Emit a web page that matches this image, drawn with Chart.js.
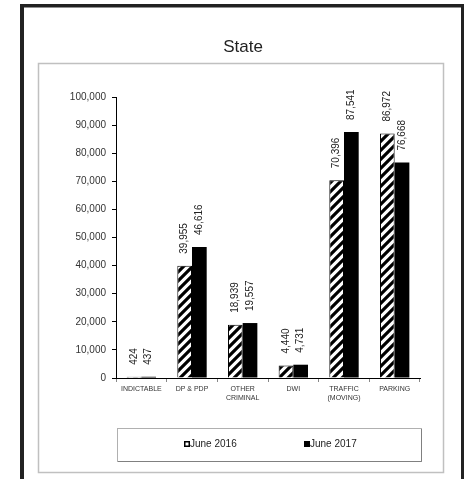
<!DOCTYPE html>
<html>
<head>
<meta charset="utf-8">
<script src="https://cdn.jsdelivr.net/npm/chart.js@4"></script>
<style>
html,body{margin:0;padding:0;background:#fff;}
#wrap{position:absolute;left:0;top:0;width:464px;height:479px;}
</style>
</head>
<body>
<div id="wrap"><canvas id="c" width="464" height="479"></canvas></div>
<script>
const categories = ['INDICTABLE', 'DP & PDP', ['OTHER', 'CRIMINAL'], 'DWI', ['TRAFFIC', '(MOVING)'], 'PARKING'];
const june2016 = [424, 39955, 18939, 4440, 70396, 86972];
const june2017 = [437, 46616, 19557, 4731, 87541, 76668];
const seriesNames = ['June 2016', 'June 2017'];
const chartTitle = 'State';
const yMax = 100000;
const yStep = 10000;

function makeHatch() {
  const s = 9;
  const c = document.createElement('canvas');
  c.width = s; c.height = s;
  const g = c.getContext('2d');
  g.fillStyle = '#fff';
  g.fillRect(0, 0, s, s);
  g.strokeStyle = '#000';
  g.lineWidth = 3.2;
  g.beginPath();
  g.moveTo(-2, s + 2); g.lineTo(s + 2, -2);
  g.moveTo(-3, 3); g.lineTo(3, -3);
  g.moveTo(s - 3, s + 3); g.lineTo(s + 3, s - 3);
  g.stroke();
  return g.createPattern(c, 'repeat');
}
const hatch = makeHatch();

const fmt = v => Number(v).toLocaleString('en-US');

const decor = {
  id: 'decor',
  beforeDraw(chart) {
    const ctx = chart.ctx;
    ctx.save();
    ctx.fillStyle = '#fff';
    ctx.fillRect(0, 0, chart.width, chart.height);
    ctx.fillStyle = '#222';
    ctx.fillRect(20, 4, 444, 3.5);
    ctx.fillRect(20, 4, 4, 480);
    ctx.fillRect(461, 4, 3, 480);
    ctx.strokeStyle = '#c0c0c0';
    ctx.lineWidth = 1.5;
    ctx.strokeRect(38.5, 63.5, 405, 409);
    ctx.fillStyle = '#222';
    ctx.font = '17px "Liberation Sans", Arial, sans-serif';
    ctx.textAlign = 'center';
    ctx.textBaseline = 'middle';
    ctx.fillText(chartTitle, 243, 47);
    ctx.restore();
  },
  afterDatasetsDraw(chart) {
    const ctx = chart.ctx;
    ctx.save();
    ctx.font = '10px "Liberation Sans", Arial, sans-serif';
    ctx.fillStyle = '#222';
    ctx.textAlign = 'left';
    ctx.textBaseline = 'middle';
    chart.data.datasets.forEach((ds, di) => {
      const meta = chart.getDatasetMeta(di);
      meta.data.forEach((bar, i) => {
        ctx.save();
        ctx.translate(bar.x, bar.y - 12);
        ctx.rotate(-Math.PI / 2);
        ctx.fillText(fmt(ds.data[i]), 0, 0);
        ctx.restore();
      });
    });
    ctx.restore();
  },
  afterDraw(chart) {
    const ctx = chart.ctx;
    ctx.save();
    ctx.strokeStyle = '#b0b0b0';
    ctx.lineWidth = 1;
    ctx.strokeRect(117.5, 428.5, 304, 33);
    ctx.strokeStyle = '#808080';
    ctx.beginPath();
    ctx.moveTo(118, 461.5); ctx.lineTo(421.5, 461.5); ctx.lineTo(421.5, 429);
    ctx.stroke();
    ctx.font = '10px "Liberation Sans", Arial, sans-serif';
    ctx.textAlign = 'left';
    ctx.textBaseline = 'middle';
    const items = [
      {x: 184, hollow: true},
      {x: 304, hollow: false}
    ];
    items.forEach((it, k) => {
      const label = chart.data.datasets[k].label;
      ctx.fillStyle = '#000';
      ctx.fillRect(it.x, 441, 6, 6);
      if (it.hollow) {
        ctx.fillStyle = '#fff';
        ctx.fillRect(it.x + 1.5, 442.5, 3, 3);
      }
      ctx.fillStyle = '#222';
      ctx.fillText(label, it.x + 6, 444.5);
    });
    ctx.restore();
  }
};

new Chart(document.getElementById('c'), {
  type: 'bar',
  data: {
    labels: categories,
    datasets: [
      {label: seriesNames[0], data: june2016, backgroundColor: hatch, borderColor: '#000', borderWidth: 1, borderSkipped: 'bottom'},
      {label: seriesNames[1], data: june2017, backgroundColor: '#000', borderColor: '#000', borderWidth: 0}
    ]
  },
  options: {
    responsive: false,
    animation: false,
    devicePixelRatio: 1,
    layout: {padding: {left: 40, top: 97, right: 44, bottom: 71}},
    datasets: {bar: {categoryPercentage: 0.58, barPercentage: 1.0}},
    plugins: {legend: {display: false}, title: {display: false}, tooltip: {enabled: false}},
    scales: {
      x: {
        afterFit: s => { s.height = 30; },
        grid: {drawOnChartArea: false, tickLength: 4, color: '#888', offset: true},
        border: {color: '#000', width: 1},
        ticks: {font: {size: 7, family: '"Liberation Sans", Arial, sans-serif'}, color: '#333', padding: 3, maxRotation: 0, autoSkip: false}
      },
      y: {
        min: 0, max: yMax,
        afterFit: s => { s.width = 76; },
        grid: {drawOnChartArea: false, tickLength: 4, color: '#000'},
        border: {color: '#000', width: 1},
        ticks: {stepSize: yStep, font: {size: 10, family: '"Liberation Sans", Arial, sans-serif'}, color: '#333', padding: 6, callback: v => fmt(v)}
      }
    }
  },
  plugins: [decor]
});
</script>
</body>
</html>
